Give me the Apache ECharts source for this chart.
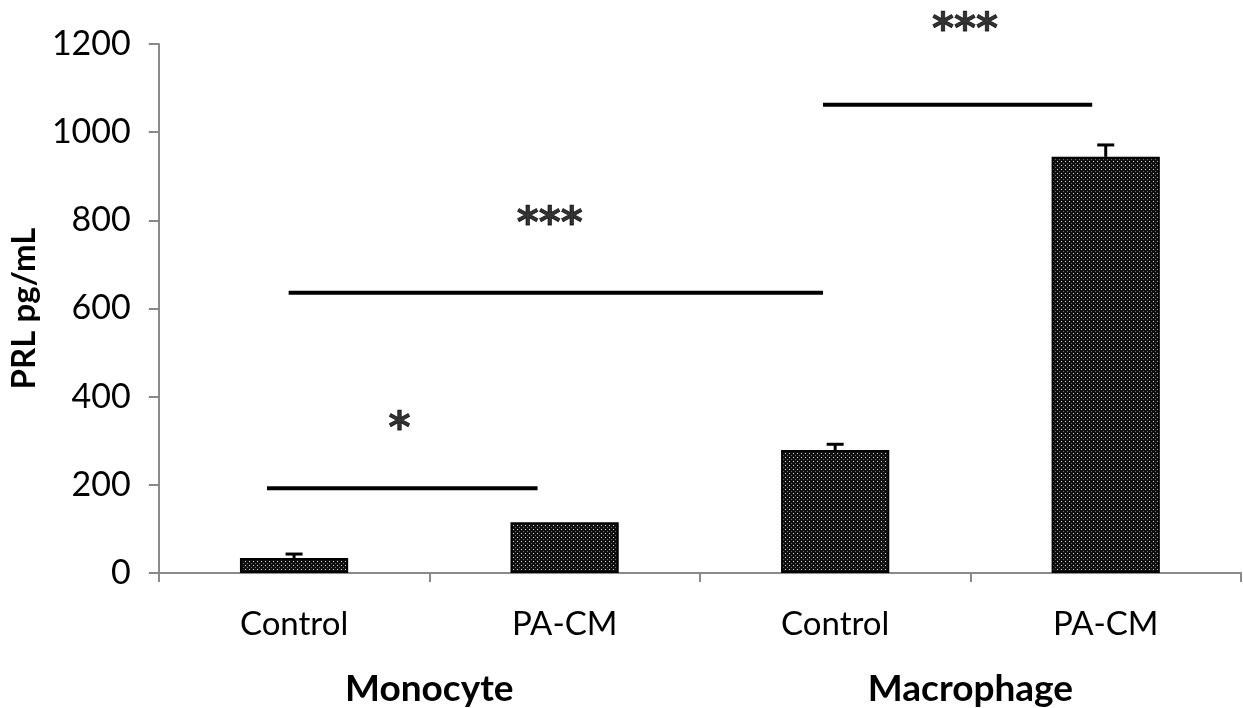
<!DOCTYPE html>
<html>
<head>
<meta charset="utf-8">
<script src="https://cdn.jsdelivr.net/npm/echarts@6/dist/echarts.min.js"></script>
<style>
html,body{margin:0;padding:0;background:#fff;}
#main{width:1243px;height:708px;}
</style>
</head>
<body>
<div id="main"></div>
<script>
// ---- data ----
const categories = ['Control', 'PA-CM', 'Control', 'PA-CM'];
const groups = ['Monocyte', 'Macrophage'];
const means = [34, 115, 279, 944];
const errors = [9, 0, 13, 27];
const yTicks = [0, 200, 400, 600, 800, 1000, 1200];
// significance bars: start x, end x (category-index units), height
const sigStart = [-0.1, -0.02, 1.955];
const sigEnd = [0.9, 1.955, 2.95];
const sigLevel = [192, 636, 1062];
// star labels: x (category-index units), y value, text
const starX = [0.39, 0.945, 2.48];
const starY = [322, 788, 1227];
const starText = ['*', '***', '***'];

const FONT = 'Lato';
const STAR_FONT = 'DejaVu Sans';

// dotted pattern for bars
const pc = document.createElement('canvas');
pc.width = 4; pc.height = 4;
const pctx = pc.getContext('2d');
pctx.fillStyle = '#101010'; pctx.fillRect(0, 0, 4, 4);
pctx.fillStyle = '#d8d8d8'; pctx.fillRect(1, 1, 1, 1);
pctx.fillStyle = '#6a6a6a'; pctx.fillRect(3, 3, 1, 1);

const chart = echarts.init(document.getElementById('main'), null, {renderer: 'canvas'});

const sigSeries = sigLevel.map((lv, i) => ({
  type: 'line',
  xAxisIndex: 1,
  data: [[sigStart[i], lv], [sigEnd[i], lv]],
  symbol: 'none',
  lineStyle: {color: '#000', width: 4},
  silent: true,
  z: 5
}));

const option = {
  animation: false,
  backgroundColor: '#fff',
  grid: {left: 154, right: 2, top: 44, bottom: 134},
  xAxis: [
    {
      type: 'category',
      data: categories,
      axisLine: {onZero: false, lineStyle: {color: '#8a8a8a', width: 2}},
      axisTick: {show: true, length: 9, lineStyle: {color: '#8a8a8a', width: 2}},
      axisLabel: {fontFamily: FONT, fontSize: 33, color: '#000', margin: 35}
    },
    {
      type: 'value', min: -0.5, max: 3.5, show: false
    },
    {
      type: 'category',
      data: groups,
      position: 'bottom',
      offset: 0,
      axisLine: {show: false},
      axisTick: {show: false},
      axisLabel: {fontFamily: FONT, fontSize: 37, fontWeight: 'bold', color: '#000', margin: 98}
    }
  ],
  yAxis: {
    type: 'value',
    min: 0, max: 1200, interval: 200,
    name: 'PRL pg/mL',
    nameLocation: 'middle',
    nameGap: 105,
    nameTextStyle: {fontFamily: FONT, fontSize: 33, fontWeight: 'bold', color: '#000'},
    axisLine: {show: true, onZero: false, lineStyle: {color: '#8a8a8a', width: 2}},
    axisTick: {show: true, length: 10, lineStyle: {color: '#8a8a8a', width: 2}},
    splitLine: {show: false},
    axisLabel: {fontFamily: FONT, fontSize: 34, color: '#000', margin: 28,
      formatter: v => yTicks.includes(v) ? String(v) : ''}
  },
  series: [
    {
      type: 'bar',
      data: means,
      barWidth: '40%',
      itemStyle: {color: {image: pc, repeat: 'repeat'}, borderColor: '#000', borderWidth: 2},
      z: 2
    },
    {
      type: 'custom',
      data: means.map((m, i) => [i, m, errors[i]]),
      renderItem: function (params, api) {
        const i = api.value(0), m = api.value(1), e = api.value(2);
        if (!e) return null;
        const top = api.coord([i, m + e]);
        const base = api.coord([i, m]);
        const hw = 8.5;
        return {
          type: 'group',
          children: [
            {type: 'line', shape: {x1: top[0], y1: top[1], x2: base[0], y2: base[1]}, style: {stroke: '#000', lineWidth: 3}},
            {type: 'line', shape: {x1: top[0] - hw, y1: top[1], x2: top[0] + hw, y2: top[1]}, style: {stroke: '#000', lineWidth: 3}}
          ]
        };
      },
      z: 3
    },
    ...sigSeries,
    {
      type: 'scatter',
      xAxisIndex: 1,
      data: starX.map((x, i) => ({value: [x, starY[i]], label: {formatter: starText[i]}})),
      symbolSize: 0,
      clip: false,
      silent: true,
      label: {show: true, position: 'inside', fontFamily: STAR_FONT, fontSize: 42, fontWeight: 'bold', color: '#000',
        textBorderColor: '#000', textBorderWidth: 0.8},
      z: 6
    }
  ]
};
chart.setOption(option);
</script>
</body>
</html>
